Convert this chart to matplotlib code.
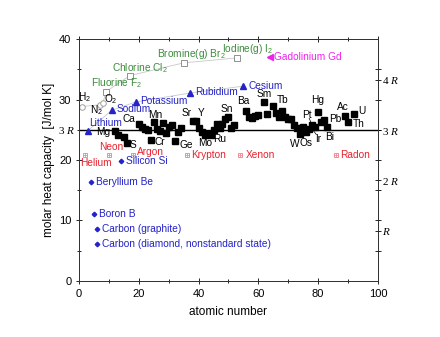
import numpy as np
import matplotlib
matplotlib.use("Agg")
import matplotlib.pyplot as plt

plt.rcParams['font.family'] = ['Liberation Sans', 'DejaVu Sans']
plt.rcParams['mathtext.fontset'] = 'custom'
plt.rcParams['mathtext.rm'] = 'Liberation Sans'
plt.rcParams['mathtext.it'] = 'Liberation Serif:italic'
plt.rcParams['mathtext.default'] = 'regular'

R = 8.314

# solids (black squares): atomic number, molar heat capacity J/(mol K)
solid_z = [12, 13, 15, 16, 20, 21, 22, 23, 24, 25, 26, 27, 28, 29, 30, 31, 32, 33, 34,
           38, 39, 40, 41, 42, 43, 44, 45, 46, 47, 48, 49, 50, 51, 52,
           56, 57, 58, 59, 60, 62, 63, 65, 66, 67, 68, 69, 70, 71, 72, 73, 74, 75, 76,
           77, 78, 79, 80, 81, 82, 83, 89, 90, 92]
solid_cp = [24.87, 24.2, 23.82, 22.75, 25.93, 25.52, 25.06, 24.89, 23.35, 26.32, 25.1, 24.81,
            26.07, 24.44, 25.39, 25.86, 23.22, 24.64, 25.36,
            26.4, 26.53, 25.36, 24.6, 24.06, 24.27, 24.06, 24.98, 25.98, 25.35, 26.02, 26.74,
            27.11, 25.23, 25.73,
            28.07, 27.11, 26.94, 27.2, 27.45, 29.54, 27.66, 28.91, 27.7, 27.15, 28.12, 27.03,
            26.74, 26.86, 25.73, 25.36, 24.27, 25.48, 24.7, 25.1, 25.86, 25.42, 27.98, 26.32,
            26.65, 25.52, 27.2, 26.23, 27.67]

# alkali metals (blue triangles)
alkali_z = [3, 11, 19, 37, 55]
alkali_cp = [24.86, 28.23, 29.6, 31.06, 32.21]
alkali_names = ["Lithium", "Sodium", "Potassium", "Rubidium", "Cesium"]

# light solids (blue diamonds)
light_z = [4, 5, 6, 6, 14]
light_cp = [16.44, 11.09, 8.52, 6.12, 19.79]
light_names = ["Beryllium Be", "Boron B", "Carbon (graphite)",
               "Carbon (diamond, nonstandard state)", "Silicon Si"]

# noble gases
noble_z = [2, 10, 18, 36, 54, 86]
noble_cp = [20.79, 20.79, 20.79, 20.79, 20.79, 20.79]
noble_names = ["Helium", "Neon", "Argon", "Krypton", "Xenon", "Radon"]

# diatomic gases
gas_z = [1, 7, 8]
gas_cp = [28.84, 29.12, 29.38]
halogen_z = [9, 17, 35, 53]
halogen_cp = [31.3, 33.95, 36.06, 36.89]

gd_z = [64]
gd_cp = [37.03]

# label text, left x, center y
black_labels = [("H$_2$", -0.3, 30.4), ("N$_2$", 3.7, 28.3), ("O$_2$", 8.5, 30.1),
                ("Mg", 5.6, 24.7), ("Ca", 14.6, 26.8), ("Mn", 23.2, 27.4), ("S", 17.0, 22.5),
                ("Cr", 25.3, 23.0), ("Ge", 33.5, 22.4), ("Sr", 34.4, 27.8), ("Y", 39.7, 27.8),
                ("Mo", 40.0, 22.8), ("Ru", 44.9, 23.4), ("Sn", 47.5, 28.4), ("Ba", 52.9, 29.75),
                ("Sm", 59.4, 30.9), ("Tb", 66.3, 29.9), ("Hg", 77.6, 29.9), ("Pt", 74.8, 27.4),
                ("Pb", 83.7, 26.7), ("Ac", 86.2, 28.7), ("U", 93.4, 28.1), ("Th", 91.7, 26.0),
                ("W", 70.4, 22.6), ("Os", 73.9, 22.8), ("Ir", 78.9, 23.4), ("Bi", 82.3, 23.75)]
green_labels = [("Fluorine F$_2$", 4.0, 32.7), ("Chlorine Cl$_2$", 10.9, 35.2),
                ("Bromine(g) Br$_2$", 26.2, 37.6), ("Iodine(g) I$_2$", 48.0, 38.4)]
alkali_label_pos = [(3.3, 26.2), (12.6, 28.4), (20.4, 29.8), (38.8, 31.3), (56.6, 32.3)]
noble_label_pos = [(0.3, 19.45), (6.8, 22.1), (19.5, 21.3), (37.5, 20.8), (55.9, 20.8), (87.5, 20.8)]

blue = "#2323c8"
red = "#e8222e"
green = "#3c8c3c"
magenta = "#ee22ee"
pink = "#f08c96"

fig = plt.figure(figsize=(4.4, 3.37), dpi=100)
ax = fig.add_axes([0.1795, 0.1662, 0.6795, 0.718])
fs = 7.3

ax.axhline(3 * R, color="black", lw=1.0, zorder=1)

ax.plot(gas_z + halogen_z, gas_cp + halogen_cp, color="#c8c8c8", lw=0.6, zorder=1)
ax.plot(alkali_z, alkali_cp, color="#c8c8c8", lw=0.6, zorder=1)

ax.plot(solid_z, solid_cp, "s", color="black", ms=4.4, ls="none", zorder=3)
ax.plot(alkali_z, alkali_cp, "^", color=blue, ms=5, ls="none", zorder=3)
ax.plot(light_z, light_cp, "D", color=blue, ms=2.3, ls="none", zorder=3)
ax.plot(noble_z, noble_cp, "s", mfc="none", mec=pink, mew=0.7, ms=3.5, ls="none", zorder=3)
ax.plot(noble_z, noble_cp, "+", color=pink, mew=0.6, ms=3.5, ls="none", zorder=3)
ax.plot(gas_z, gas_cp, "o", mfc="white", mec="#a0a0a0", mew=0.7, ms=4, ls="none", zorder=3)
ax.plot(halogen_z, halogen_cp, "s", mfc="white", mec="#909090", mew=0.7, ms=4, ls="none", zorder=3)
ax.plot(gd_z, gd_cp, "<", color=magenta, ms=5, ls="none", zorder=3)

for t, x, y in black_labels:
    ax.text(x, y, t, fontsize=fs, color="black", ha="left", va="center", clip_on=False)
for t, x, y in green_labels:
    ax.text(x, y, t, fontsize=fs, color=green, ha="left", va="center")
for t, (x, y) in zip(alkali_names, alkali_label_pos):
    ax.text(x, y, t, fontsize=fs, color=blue, ha="left", va="center")
for t, (x, y) in zip(noble_names, noble_label_pos):
    ax.text(x, y, t, fontsize=fs, color=red, ha="left", va="center")
for t, x, y in zip(light_names, light_z, light_cp):
    ax.text(x + 1.8, y, t, fontsize=fs, color=blue, ha="left", va="center")
ax.text(65.2, 37.1, "Gadolinium Gd", fontsize=fs, color=magenta, ha="left", va="center")

# small leader lines
ax.plot([79.4, 78.2], [24.2, 25.0], color="black", lw=0.5)
ax.plot([77.0, 77.8], [26.9, 26.0], color="black", lw=0.5)

ax.set_xlim(0, 100)
ax.set_ylim(0, 40)
ax.set_xticks(range(0, 101, 20))
ax.set_xticks(range(10, 100, 20), minor=True)
ax.set_yticks(range(0, 41, 10))
ax.set_yticks(range(5, 40, 10), minor=True)
ax.tick_params(axis="x", which="both", direction="inout", top=True, labelsize=8)
ax.tick_params(axis="y", which="both", direction="inout", labelsize=8)
ax.tick_params(which="major", length=4, width=0.6)
ax.tick_params(which="minor", length=3, width=0.6)
for s in ax.spines.values():
    s.set_linewidth(0.7)
    s.set_color("#333333")

ax.text(-1.2, 3 * R, "3 $\\mathit{R}$", fontsize=8, ha="right", va="center",
        family="Liberation Serif")

ax2 = ax.twinx()
ax2.set_ylim(0, 40)
ax2.set_yticks([R, 2 * R, 3 * R, 4 * R])
ax2.set_yticklabels(["$\\mathit{R}$", "2 $\\mathit{R}$", "3 $\\mathit{R}$", "4 $\\mathit{R}$"],
                    family="Liberation Serif", fontsize=8)
ax2.set_yticks(range(5, 40, 5), minor=True)
ax2.tick_params(which="both", direction="inout", length=4, width=0.6, pad=1)
for s in ax2.spines.values():
    s.set_linewidth(0.7)
    s.set_color("#333333")

ax.set_xlabel("atomic number", fontsize=8.5, labelpad=5)
ax.set_ylabel("molar heat capacity  [J/mol K]", fontsize=8.5, labelpad=3)

fig.savefig("out.png", dpi=100)
